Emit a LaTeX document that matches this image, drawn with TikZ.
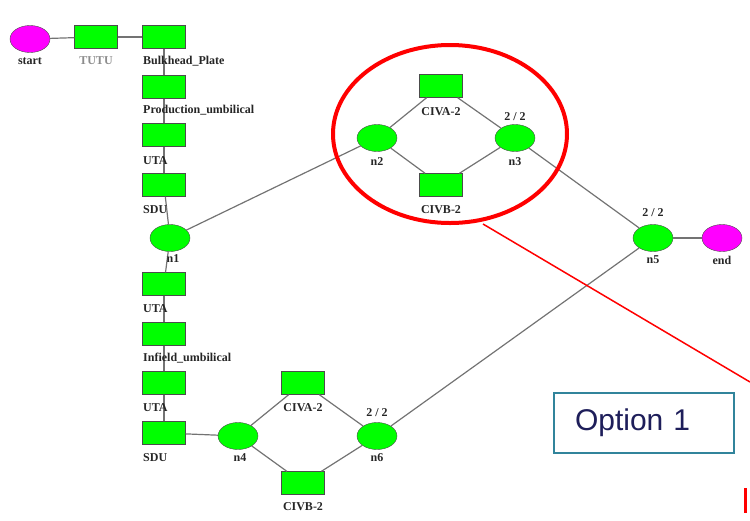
\documentclass[tikz,border=0pt]{standalone}
\usepackage{fontspec}
\setmainfont{Liberation Serif}
\newfontfamily\optfont{Liberation Sans}
\usetikzlibrary{shapes.geometric}
\definecolor{boxgreen}{RGB}{0,255,0}
\definecolor{termpink}{RGB}{255,0,255}
\definecolor{optteal}{RGB}{49,132,155}
\definecolor{optnavy}{RGB}{30,30,90}

\begin{document}
\begin{tikzpicture}[x=1pt, y=-1pt,
    comp/.style={draw=black!70, fill=boxgreen, minimum width=43, minimum height=23, inner sep=0},
    junc/.style={ellipse, draw=black!70, fill=boxgreen, minimum width=40, minimum height=27, inner sep=0},
    term/.style={junc, fill=termpink},
    lbl/.style={font=\fontsize{12}{12}\selectfont\bfseries, text=black!85, inner sep=0},
    link/.style={draw=black!55, line width=1.2},
    optbox/.style={draw=optteal, line width=2, text width=138, inner xsep=21, minimum height=60,
      align=left, text=optnavy, font=\optfont\fontsize{30}{30}\selectfont}]
    \useasboundingbox (0,0) rectangle (750,520);

    % left branch
    \node[term] (start) at (30,39) {};
    \node[comp] (tutu) at (96,37) {};
    \node[comp] (bp) at (164,37) {};
    \node[comp] (prod) at (164,87) {};
    \node[comp] (uta1) at (164,135) {};
    \node[comp] (sdu1) at (164,185) {};
    \node[junc] (n1) at (170,238) {};
    \node[comp] (uta2) at (164,284) {};
    \node[comp] (inf) at (164,334) {};
    \node[comp] (uta3) at (164,383) {};
    \node[comp] (sdu2) at (164,433) {};

    % lower option
    \node[junc] (n4) at (238,436) {};
    \node[comp] (civa2) at (303,383) {};
    \node[comp] (civb2) at (303,483) {};
    \node[junc] (n6) at (377,436) {};

    % upper option
    \node[junc] (n2) at (377,138) {};
    \node[comp] (civa1) at (441,86) {};
    \node[comp] (civb1) at (441,185) {};
    \node[junc] (n3) at (515,138) {};

    \node[junc] (n5) at (653,238) {};
    \node[term] (end) at (722,238) {};

    \foreach \a/\b in {start/tutu, tutu/bp, bp/prod, prod/uta1, uta1/sdu1, sdu1/n1,
        n1/uta2, uta2/inf, inf/uta3, uta3/sdu2, sdu2/n4, n4/civa2, n4/civb2,
        civa2/n6, civb2/n6, n6/n5, n1/n2, n2/civa1, n2/civb1, civa1/n3, civb1/n3,
        n3/n5, n5/end}
      \draw[link] (\a) -- (\b);

    % labels
    \node[lbl] (lstart) at (30,61) {start};
    \node[lbl, text=black!45] (ltutu) at (96,61) {TUTU};
    \node[lbl, anchor=west] (lbp) at (143,61) {Bulkhead\_Plate};
    \node[lbl, anchor=west] (lprod) at (143,110) {Production\_umbilical};
    \node[lbl, anchor=west] (luta1) at (143,161) {UTA};
    \node[lbl, anchor=west] (lsdu1) at (143,210) {SDU};
    \node[lbl] (ln1) at (173,259) {n1};
    \node[lbl, anchor=west] (luta2) at (143,309) {UTA};
    \node[lbl, anchor=west] (linf) at (143,358) {Infield\_umbilical};
    \node[lbl, anchor=west] (luta3) at (143,408) {UTA};
    \node[lbl, anchor=west] (lsdu2) at (143,458) {SDU};
    \node[lbl] (ln4) at (240,458) {n4};
    \node[lbl] (lciva2) at (303,408) {CIVA-2};
    \node[lbl] (lcivb2) at (303,507) {CIVB-2};
    \node[lbl] (lr6) at (377,413) {2 / 2};
    \node[lbl] (ln6) at (377,458) {n6};
    \node[lbl] (ln2) at (377,162) {n2};
    \node[lbl] (lciva1) at (441,112) {CIVA-2};
    \node[lbl] (lcivb1) at (441,210) {CIVB-2};
    \node[lbl] (lr3) at (515,117) {2 / 2};
    \node[lbl] (ln3) at (515,162) {n3};
    \node[lbl] (lr5) at (653,213) {2 / 2};
    \node[lbl] (ln5) at (653,260) {n5};
    \node[lbl] (lend) at (722,260) {end};

    % highlight
    \draw[red, line width=4] (450,134) ellipse [x radius=117, y radius=89];
    \coordinate (hl) at (483,224);
    \coordinate (hr) at (750,382);
    \draw[red, line width=1.5] (hl) -- (hr);
    \node[optbox] (opt) at (644,423) {Option 1};
    \coordinate (bt) at (745,488);
    \coordinate (bb) at (745,513);
    \draw[red, line width=3] (bt) -- (bb);
\end{tikzpicture}
\end{document}
